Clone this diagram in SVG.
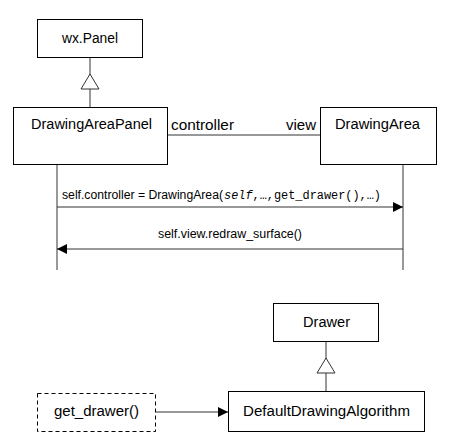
<svg xmlns="http://www.w3.org/2000/svg" width="452" height="443" viewBox="0 0 452 443">
<style>
.box{fill:#fff;stroke:#000;stroke-width:1}
.dash{fill:#fff;stroke:#000;stroke-width:1;stroke-dasharray:4,3}
.t{font-family:"Liberation Sans",Arial,sans-serif;font-size:14px;fill:#000}
.m{font-family:"Liberation Sans",Arial,sans-serif;font-size:12px;fill:#000}
.mono{font-family:"Liberation Mono","DejaVu Sans Mono",monospace;font-size:12px;fill:#000}
.ln{stroke:#333;stroke-width:1;fill:none}
.life{stroke:#555;stroke-width:1.2;fill:none}
.tri{fill:#fff;stroke:#333;stroke-width:1}
</style>
<defs>
<marker id="arr" markerWidth="10" markerHeight="10" refX="10" refY="5" orient="auto" markerUnits="userSpaceOnUse">
<path d="M0,0 L10,5 L0,10 Z" fill="#000"/>
</marker>
</defs>
<rect width="452" height="443" fill="#fff"/>
<g id="connectors">
<line class="ln" x1="90" y1="57" x2="90" y2="107"/>
<polygon class="tri" points="90,74 81,89 99,89"/>
<line class="ln" x1="167" y1="135" x2="320" y2="135"/>
<text class="t" x="171" y="130" textLength="63" lengthAdjust="spacingAndGlyphs">controller</text>
<text class="t" x="286" y="130" textLength="30" lengthAdjust="spacingAndGlyphs">view</text>
<line class="life" x1="57" y1="164" x2="57" y2="270"/>
<line class="life" x1="403" y1="164" x2="403" y2="270"/>
<line class="ln" x1="57" y1="207" x2="403" y2="207" marker-end="url(#arr)"/>
<text class="m" x="62" y="199" textLength="161" lengthAdjust="spacingAndGlyphs">self.controller = DrawingArea(</text>
<text class="mono" x="224" y="199" textLength="157" lengthAdjust="spacingAndGlyphs"><tspan font-style="italic">self</tspan>,…,get_drawer(),…)</text>
<line class="ln" x1="403" y1="249" x2="57" y2="249" marker-end="url(#arr)"/>
<text class="m" x="158" y="238" textLength="144" lengthAdjust="spacingAndGlyphs">self.view.redraw_surface()</text>
<line class="ln" x1="326" y1="342" x2="326" y2="391"/>
<polygon class="tri" points="326,358 317,373 335,373"/>
<line class="ln" x1="156" y1="412" x2="228" y2="412" marker-end="url(#arr)"/>
</g>
<g id="wxPanel">
<rect class="box" x="37.5" y="19.5" width="105" height="38"/>
<text class="t" x="62" y="43" textLength="56" lengthAdjust="spacingAndGlyphs">wx.Panel</text>
</g>
<g id="DrawingAreaPanel">
<rect class="box" x="13.5" y="107.5" width="154" height="57"/>
<text class="t" x="31" y="129" textLength="121" lengthAdjust="spacingAndGlyphs">DrawingAreaPanel</text>
</g>
<g id="DrawingArea">
<rect class="box" x="320.5" y="107.5" width="116" height="57"/>
<text class="t" x="335" y="129" textLength="85" lengthAdjust="spacingAndGlyphs">DrawingArea</text>
</g>
<g id="Drawer">
<rect class="box" x="273.5" y="303.5" width="105" height="38"/>
<text class="t" x="303" y="327" textLength="47" lengthAdjust="spacingAndGlyphs">Drawer</text>
</g>
<g id="DefaultDrawingAlgorithm">
<rect class="box" x="228.5" y="391.5" width="196" height="40"/>
<text class="t" x="243" y="416" textLength="167" lengthAdjust="spacingAndGlyphs">DefaultDrawingAlgorithm</text>
</g>
<g id="get_drawer">
<rect class="dash" x="37.5" y="393.5" width="118" height="38"/>
<text class="t" x="54" y="416" textLength="85" lengthAdjust="spacingAndGlyphs">get_drawer()</text>
</g>
</svg>
